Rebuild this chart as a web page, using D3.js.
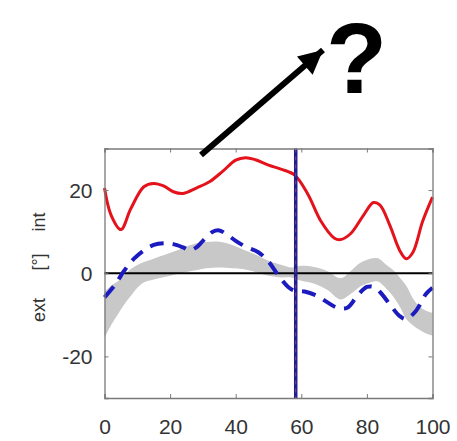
<!DOCTYPE html>
<html>
<head>
<meta charset="utf-8">
<script src="https://cdn.jsdelivr.net/npm/d3@7"></script>
<style>
  html, body { margin: 0; padding: 0; background: #fff; }
  svg { display: block; }
</style>
</head>
<body>
<svg id="chart" width="457" height="441"></svg>
<script>
// ---- data ----
const xTicks = [0, 20, 40, 60, 80, 100];
const yTicks = [-20, 0, 20];
const eventX = 58.3;

const redX = [0, 2, 5, 8, 12, 15, 18, 21, 24, 28, 32, 36, 40, 43, 46, 50, 54, 58, 62, 66, 70, 72, 75, 79, 82, 84, 87, 90, 92, 94, 97, 100];
const redY = [20.5, 14, 10.5, 15.5, 20.8, 21.6, 21, 19.6, 19.2, 20.5, 22, 24.5, 27.2, 27.8, 27.3, 26, 25, 23.6, 19, 12.5, 8.5, 8.1, 9.5, 14, 17, 16.4, 11.5, 5.5, 3.5, 5, 12.5, 18.3];

const blueX = [0, 3, 6, 9, 12, 15, 18, 21, 24, 26, 28, 30, 33, 35, 37, 40, 43, 47, 50, 53, 56, 58, 61, 65, 68, 71, 74, 77, 80, 82, 84, 87, 90, 92, 95, 98, 100];
const blueY = [-5.8, -3, 0.6, 3.5, 5.5, 6.8, 7.2, 7, 6.2, 5.5, 6.2, 7.8, 10, 10.3, 9.5, 7.8, 6.4, 5, 2.8, -0.5, -3.3, -4.2, -4.4, -5.5, -7, -8.3, -8.3, -5.5, -3.3, -3.3, -4.5, -7.5, -10.3, -11, -9, -5, -3.5];

const bandX = [0, 2, 4, 6, 8, 10, 12, 15, 19, 23, 27, 31, 35, 39, 42, 46, 50, 54, 57, 60, 64, 68, 72, 75, 78, 81, 83.4, 86, 88, 90, 92, 94, 96, 98, 100];
const bandUpper = [-4.5, -3, -2, -0.5, 1, 2, 2.7, 3.5, 4.6, 5.8, 7, 7.5, 7.6, 6.8, 5.8, 4.5, 3, 2, 1.4, 1.8, 1.5, 0.5, -1.2, 0.5, 2.5, 3.5, 3.6, 2, 0.8, -1, -3, -6, -8, -9, -9.5];
const bandLower = [-15.5, -12.5, -10, -7.5, -5.5, -3.5, -2.2, -1.5, -0.8, 0, 0.6, 1.2, 1.4, 1.2, 1, 0.3, -0.6, -1, -1, -1.8, -2.5, -4, -6.3, -5, -3.2, -2.2, -2, -3.8, -5.6, -8, -11, -12.5, -13.6, -14.5, -15];

// ---- layout ----
const svg = d3.select("#chart");
const x = d3.scaleLinear().domain([0, 100]).range([104.5, 432.5]);
const y = d3.scaleLinear().domain([-30, 30]).range([398, 148.5]);

const fontFam = "'Liberation Sans', Arial, Helvetica, sans-serif";

// gray band
const bandData = bandX.map((d, i) => ({ x: d, lo: bandLower[i], hi: bandUpper[i] }));
svg.append("path")
  .datum(bandData)
  .attr("fill", "#c8c8c8")
  .attr("d", d3.area().x(d => x(d.x)).y0(d => y(d.lo)).y1(d => y(d.hi)).curve(d3.curveCatmullRom));

// zero line
svg.append("line")
  .attr("x1", x(0)).attr("x2", x(100))
  .attr("y1", y(0)).attr("y2", y(0))
  .attr("stroke", "#000").attr("stroke-width", 2);

// red solid line
svg.append("path")
  .datum(redX.map((d, i) => [d, redY[i]]))
  .attr("fill", "none")
  .attr("stroke", "#e3121b")
  .attr("stroke-width", 3)
  .attr("d", d3.line().x(d => x(d[0])).y(d => y(d[1])).curve(d3.curveCatmullRom));

// blue dashed line
svg.append("path")
  .datum(blueX.map((d, i) => [d, blueY[i]]))
  .attr("fill", "none")
  .attr("stroke", "#1b1bc0")
  .attr("stroke-width", 4)
  .attr("stroke-dasharray", "14,9")
  .attr("d", d3.line().x(d => x(d[0])).y(d => y(d[1])).curve(d3.curveCatmullRom));

// vertical event line (blue solid with red dashed overlay)
svg.append("line")
  .attr("x1", x(eventX)).attr("x2", x(eventX))
  .attr("y1", y(30)).attr("y2", y(-30))
  .attr("stroke", "#1e1e8e").attr("stroke-width", 3.5);
svg.append("line")
  .attr("x1", x(eventX)).attr("x2", x(eventX))
  .attr("y1", y(30)).attr("y2", y(-30))
  .attr("stroke", "#d85a7a").attr("stroke-width", 1)
  .attr("stroke-dasharray", "4,4").attr("opacity", 0.6);

// axes (box with inward ticks)
const axisColor = "#7a7a7a";
const fmt = d => String(d);
const gB = svg.append("g").attr("transform", `translate(0,${y(-30)})`)
  .call(d3.axisBottom(x).tickValues(xTicks).tickSize(-4).tickFormat(fmt));
const gT = svg.append("g").attr("transform", `translate(0,${y(30)})`)
  .call(d3.axisTop(x).tickValues(xTicks).tickSize(-4).tickFormat(""));
const gL = svg.append("g").attr("transform", `translate(${x(0)},0)`)
  .call(d3.axisLeft(y).tickValues(yTicks).tickSize(-4).tickPadding(12).tickFormat(fmt));
const gR = svg.append("g").attr("transform", `translate(${x(100)},0)`)
  .call(d3.axisRight(y).tickValues(yTicks).tickSize(-4).tickFormat(""));

[gB, gT, gL, gR].forEach(g => {
  g.select(".domain").attr("stroke", axisColor).attr("stroke-width", 1.3);
  g.selectAll(".tick line").attr("stroke", axisColor).attr("stroke-width", 1);
  g.selectAll("text").attr("fill", "#333").attr("font-family", fontFam).attr("font-size", 21);
});
gB.selectAll(".tick text").attr("dy", 0).attr("y", 36);
gL.selectAll(".tick text").attr("dy", "0.36em");

// y-axis label
const yLab = [["int", 222], ["[°]", 262], ["ext", 310]];
yLab.forEach(([t, cy]) => {
  svg.append("text")
    .attr("transform", `translate(45,${cy}) rotate(-90)`)
    .attr("text-anchor", "middle")
    .attr("font-family", fontFam)
    .attr("font-size", 18)
    .attr("fill", "#333")
    .text(t);
});

// arrow
svg.append("defs").append("marker")
  .attr("id", "ah")
  .attr("viewBox", "0 0 10 10")
  .attr("refX", 10).attr("refY", 5)
  .attr("markerUnits", "userSpaceOnUse")
  .attr("markerWidth", 30).attr("markerHeight", 24)
  .attr("orient", "auto")
  .append("path").attr("d", "M0,0 L10,5 L0,10 Z").attr("fill", "#000");

svg.append("line")
  .attr("x1", 201).attr("y1", 155)
  .attr("x2", 323).attr("y2", 50)
  .attr("stroke", "#000").attr("stroke-width", 6)
  .attr("marker-end", "url(#ah)");

// question mark
svg.append("text")
  .attr("x", 326).attr("y", 93)
  .attr("font-family", fontFam)
  .attr("font-weight", "bold")
  .attr("font-size", 100)
  .attr("fill", "#000")
  .text("?");
</script>
</body>
</html>
